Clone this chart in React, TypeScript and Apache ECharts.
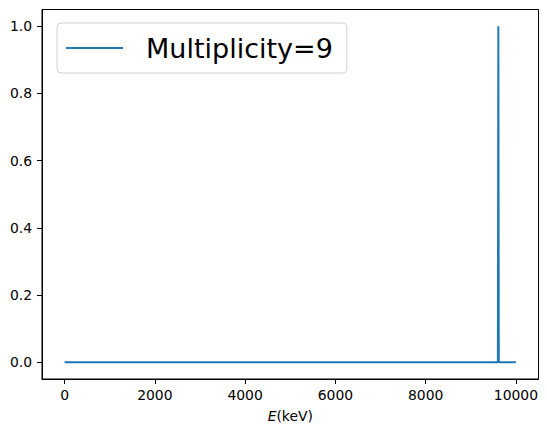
import React, { useEffect, useRef } from "react";
import * as echarts from "echarts";

const energies = [0, 9600, 9610, 9620, 10000];
const counts = [0, 0, 1, 0, 0];
const xTicks = [0, 2000, 4000, 6000, 8000, 10000];
const yTicks = [0, 0.2, 0.4, 0.6, 0.8, 1.0];
const seriesName = "Multiplicity=9";

const FONT = "DejaVu Sans";

export default function App() {
  const ref = useRef<HTMLDivElement>(null);
  useEffect(() => {
    if (!ref.current) return;
    const chart = echarts.init(ref.current, undefined, { renderer: "svg" });
    chart.setOption({
      animation: false,
      backgroundColor: "#ffffff",
      grid: {
        left: 42,
        right: 8.5,
        top: 9.5,
        bottom: 55,
        show: true,
        borderColor: "#000",
        borderWidth: 1,
        backgroundColor: "transparent",
      },
      legend: {
        show: true,
        left: 57,
        top: 23,
        orient: "horizontal",
        data: [{ name: seriesName, icon: "rect" }],
        itemWidth: 57,
        itemHeight: 2,
        backgroundColor: "#fff",
        borderColor: "rgba(204,204,204,0.9)",
        borderWidth: 1,
        borderRadius: 4,
        padding: [9, 14, 9, 9],
        textStyle: {
          fontFamily: FONT,
          fontSize: 27,
          color: "#000",
          padding: [0, 0, 0, 18],
          lineHeight: 32,
        },
      },
      xAxis: {
        type: "value",
        min: -500,
        max: 10500,
        name: "{i|E}(keV)",
        nameLocation: "middle",
        nameGap: 30,
        nameTextStyle: {
          fontFamily: FONT,
          fontSize: 13.9,
          color: "#000",
          rich: {
            i: { fontFamily: FONT, fontSize: 13.9, fontStyle: "italic", color: "#000" },
          },
        },
        axisLine: { onZero: false, lineStyle: { color: "#000", width: 1 } },
        axisTick: {
          show: true,
          inside: false,
          length: 5,
          customValues: xTicks,
          lineStyle: { color: "#000", width: 1 },
        },
        axisLabel: {
          customValues: xTicks,
          fontFamily: FONT,
          fontSize: 13.9,
          color: "#000",
          margin: 9,
          formatter: (v: number) => String(v),
        },
        splitLine: { show: false },
      },
      yAxis: {
        type: "value",
        min: -0.05,
        max: 1.05,
        axisLine: { show: true, onZero: false, lineStyle: { color: "#000", width: 1 } },
        axisTick: {
          show: true,
          inside: false,
          length: 5,
          customValues: yTicks,
          lineStyle: { color: "#000", width: 1 },
        },
        axisLabel: {
          customValues: yTicks,
          fontFamily: FONT,
          fontSize: 13.9,
          color: "#000",
          margin: 10,
          formatter: (v: number) => v.toFixed(1),
        },
        splitLine: { show: false },
      },
      series: [
        {
          name: seriesName,
          type: "line",
          data: energies.map((e, i) => [e, counts[i]]),
          symbol: "none",
          showSymbol: false,
          lineStyle: { color: "#1f77b4", width: 2 },
          itemStyle: { color: "#1f77b4" },
        },
      ],
    });
    return () => chart.dispose();
  }, []);
  return <div ref={ref} style={{ width: 547, height: 434, position: "absolute", left: 0, top: 0 }} />;
}
